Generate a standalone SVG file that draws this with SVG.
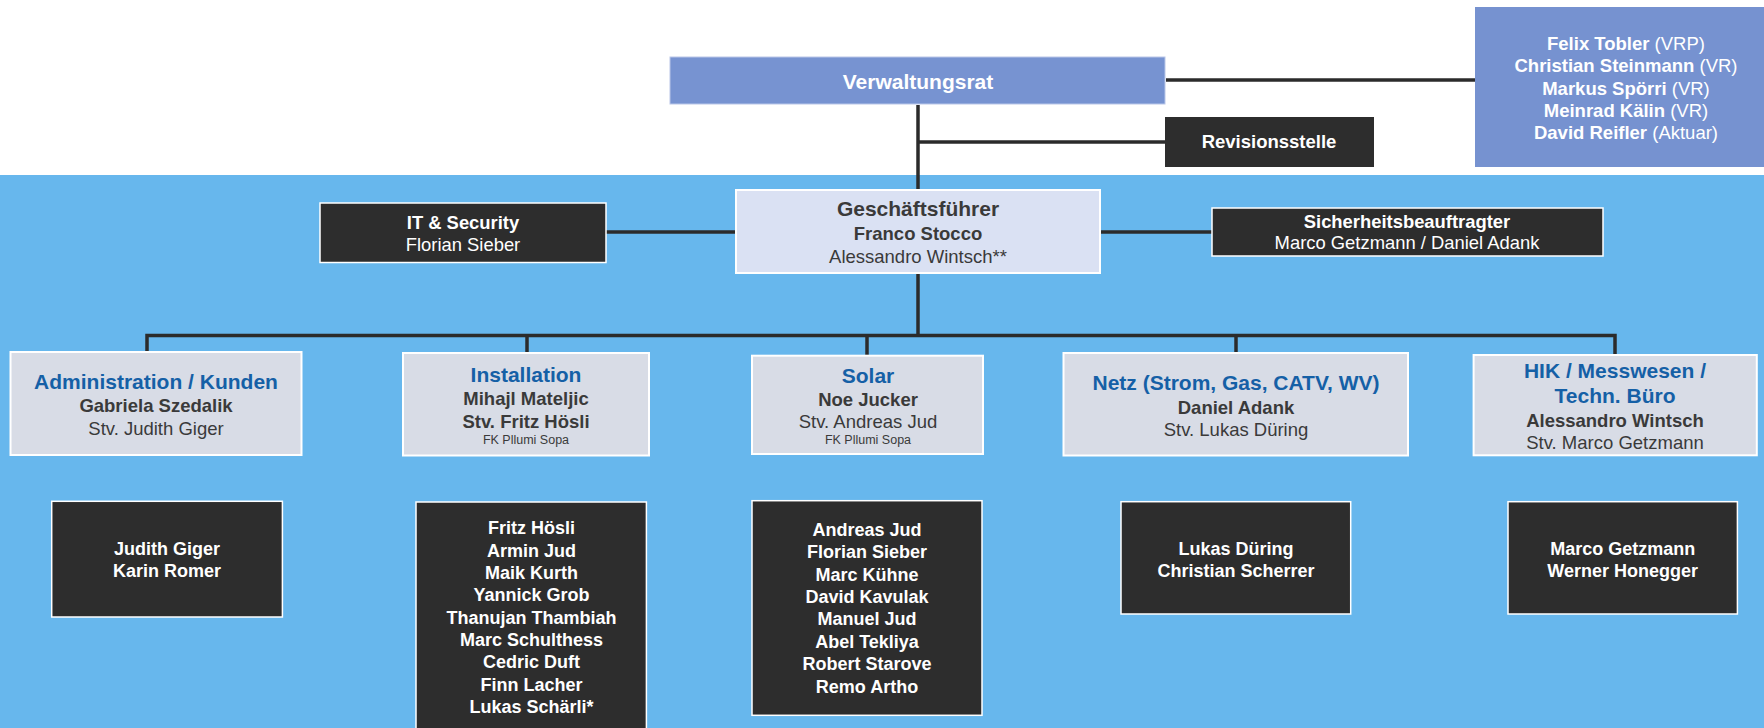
<svg xmlns="http://www.w3.org/2000/svg" width="1764" height="728" viewBox="0 0 1764 728">
<style>
text{font-family:"Liberation Sans",Arial,Helvetica,sans-serif;text-anchor:middle}
.conn{stroke:#2B2B2B;stroke-width:3.5;fill:none}
.dark{fill:#2D2D2D;stroke:#FFFFFF;stroke-width:1.5}
.dept{fill:#D8DCE6;stroke:#FFFFFF;stroke-width:2}
.w{fill:#FFFFFF}
.b{font-weight:bold}
.h{font-size:21px;font-weight:bold;fill:#1560A6}
.n{font-size:18.5px;font-weight:bold;fill:#3A3A3A}
.s{font-size:18.5px;fill:#3A3A3A}
.fk{font-size:12.5px;fill:#3A3A3A}
.t{font-size:18px;font-weight:bold;fill:#FFFFFF}
</style>
<rect x="0" y="0" width="1764" height="728" fill="#FFFFFF"/>
<rect x="0" y="175" width="1764" height="553" fill="#67B7ED"/>

<g id="connectors">
<line class="conn" x1="1166" y1="80" x2="1475" y2="80"/>
<line class="conn" x1="918" y1="105" x2="918" y2="190"/>
<line class="conn" x1="918" y1="142" x2="1165" y2="142"/>
<line class="conn" x1="606" y1="232" x2="736" y2="232"/>
<line class="conn" x1="1100" y1="232" x2="1212" y2="232"/>
<line class="conn" x1="918" y1="273" x2="918" y2="336"/>
<polyline class="conn" points="147,352 147,335.5 1615,335.5 1615,355"/>
<line class="conn" x1="527" y1="335.5" x2="527" y2="353"/>
<line class="conn" x1="867" y1="335.5" x2="867" y2="356"/>
<line class="conn" x1="1236" y1="335.5" x2="1236" y2="353"/>
</g>

<g id="verwaltungsrat">
<rect x="670" y="57" width="495" height="47" fill="#7793D1" stroke="#B9C6E8" stroke-width="1"/>
<text x="918" y="89" class="w b" font-size="21">Verwaltungsrat</text>
</g>

<g id="vr-mitglieder">
<rect x="1475" y="7" width="300" height="160" fill="#7692D0"/>
<text x="1626" y="50" class="w" font-size="18.5"><tspan font-weight="bold">Felix Tobler</tspan> (VRP)</text>
<text x="1626" y="72.3" class="w" font-size="18.5"><tspan font-weight="bold">Christian Steinmann</tspan> (VR)</text>
<text x="1626" y="94.5" class="w" font-size="18.5"><tspan font-weight="bold">Markus Spörri</tspan> (VR)</text>
<text x="1626" y="116.7" class="w" font-size="18.5"><tspan font-weight="bold">Meinrad Kälin</tspan> (VR)</text>
<text x="1626" y="138.8" class="w" font-size="18.5"><tspan font-weight="bold">David Reifler</tspan> (Aktuar)</text>
</g>

<g id="revisionsstelle">
<rect x="1165" y="117" width="209" height="50" fill="#2D2D2D"/>
<text x="1269" y="148" class="w b" font-size="18.5">Revisionsstelle</text>
</g>

<g id="geschaeftsfuehrer">
<rect x="736" y="190" width="364" height="83" fill="#DAE1F3" stroke="#FFFFFF" stroke-width="2"/>
<text x="918" y="216" class="b" font-size="21" fill="#3A3A3A">Geschäftsführer</text>
<text x="918" y="240" class="n">Franco Stocco</text>
<text x="918" y="262.5" class="s">Alessandro Wintsch**</text>
</g>

<g id="it-security">
<rect x="320" y="203" width="286" height="59.5" class="dark"/>
<text x="463" y="229" class="w b" font-size="18.4">IT &amp; Security</text>
<text x="463" y="250.7" class="w" font-size="18.4">Florian Sieber</text>
</g>

<g id="sicherheitsbeauftragter">
<rect x="1212" y="208" width="391" height="48" class="dark"/>
<text x="1407" y="228.3" class="w b" font-size="18.4">Sicherheitsbeauftragter</text>
<text x="1407" y="249.3" class="w" font-size="18.4">Marco Getzmann / Daniel Adank</text>
</g>

<g id="administration">
<rect x="10.5" y="352" width="291" height="103" class="dept"/>
<text x="156" y="388.7" class="h">Administration / Kunden</text>
<text x="156" y="412" class="n">Gabriela Szedalik</text>
<text x="156" y="434.7" class="s">Stv. Judith Giger</text>
</g>

<g id="installation">
<rect x="403" y="353" width="246" height="102.5" class="dept"/>
<text x="526" y="382" class="h">Installation</text>
<text x="526" y="405.3" class="n">Mihajl Mateljic</text>
<text x="526" y="427.7" class="n">Stv. Fritz Hösli</text>
<text x="526" y="444" class="fk">FK Pllumi Sopa</text>
</g>

<g id="solar">
<rect x="752" y="355.7" width="231" height="98.3" class="dept"/>
<text x="868" y="382.7" class="h">Solar</text>
<text x="868" y="406" class="n">Noe Jucker</text>
<text x="868" y="428" class="s">Stv. Andreas Jud</text>
<text x="868" y="444.3" class="fk">FK Pllumi Sopa</text>
</g>

<g id="netz">
<rect x="1063.5" y="353" width="344.5" height="102.5" class="dept"/>
<text x="1236" y="390" class="h">Netz (Strom, Gas, CATV, WV)</text>
<text x="1236" y="414" class="n">Daniel Adank</text>
<text x="1236" y="436" class="s">Stv. Lukas Düring</text>
</g>

<g id="hik">
<rect x="1473.6" y="355" width="283.2" height="100.3" class="dept"/>
<text x="1615" y="377.7" class="h">HIK / Messwesen /</text>
<text x="1615" y="403.3" class="h">Techn. Büro</text>
<text x="1615" y="426.7" class="n" fill="#2E2E2E">Alessandro Wintsch</text>
<text x="1615" y="448.7" class="s">Stv. Marco Getzmann</text>
</g>

<g id="team-administration">
<rect x="51.7" y="501.3" width="230.7" height="115.7" class="dark"/>
<text x="167" y="555" class="t">Judith Giger</text>
<text x="167" y="577.3" class="t">Karin Romer</text>
</g>

<g id="team-installation">
<rect x="416" y="502" width="230.4" height="240" class="dark"/>
<text x="531.5" y="534.3" class="t">Fritz Hösli</text>
<text x="531.5" y="556.7" class="t">Armin Jud</text>
<text x="531.5" y="579" class="t">Maik Kurth</text>
<text x="531.5" y="601.3" class="t">Yannick Grob</text>
<text x="531.5" y="623.7" class="t">Thanujan Thambiah</text>
<text x="531.5" y="646" class="t">Marc Schulthess</text>
<text x="531.5" y="668.4" class="t">Cedric Duft</text>
<text x="531.5" y="690.7" class="t">Finn Lacher</text>
<text x="531.5" y="713" class="t">Lukas Schärli*</text>
</g>

<g id="team-solar">
<rect x="752" y="500.7" width="230" height="214.6" class="dark"/>
<text x="867" y="535.7" class="t">Andreas Jud</text>
<text x="867" y="558.1" class="t">Florian Sieber</text>
<text x="867" y="580.5" class="t">Marc Kühne</text>
<text x="867" y="602.9" class="t">David Kavulak</text>
<text x="867" y="625.3" class="t">Manuel Jud</text>
<text x="867" y="647.7" class="t">Abel Tekliya</text>
<text x="867" y="670.1" class="t">Robert Starove</text>
<text x="867" y="692.5" class="t">Remo Artho</text>
</g>

<g id="team-netz">
<rect x="1121" y="501.7" width="229.7" height="112.3" class="dark"/>
<text x="1236" y="555" class="t">Lukas Düring</text>
<text x="1236" y="577" class="t">Christian Scherrer</text>
</g>

<g id="team-hik">
<rect x="1508" y="501.7" width="229.4" height="112.3" class="dark"/>
<text x="1622.7" y="555" class="t">Marco Getzmann</text>
<text x="1622.7" y="577" class="t">Werner Honegger</text>
</g>
</svg>
